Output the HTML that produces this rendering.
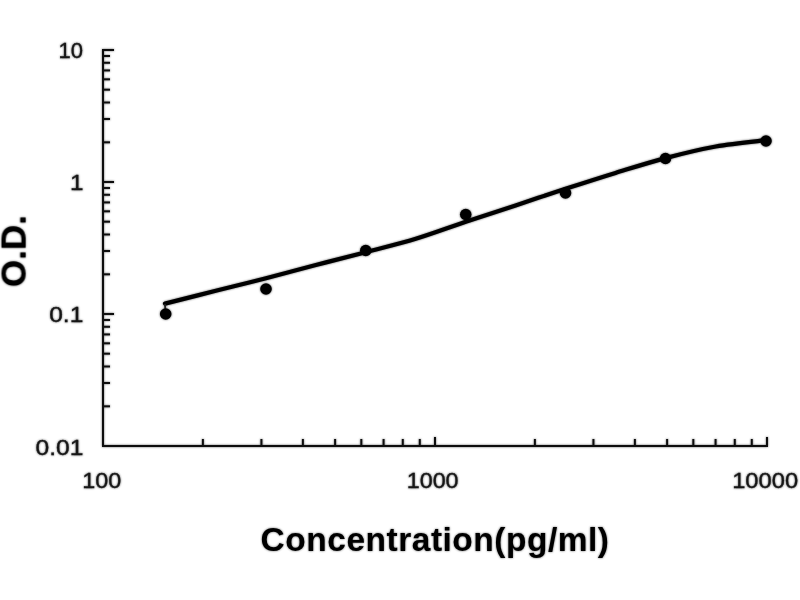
<!DOCTYPE html>
<html lang="en"><head><meta charset="utf-8"><title>Standard curve</title>
<style>html,body{margin:0;padding:0;background:#fff}body{width:800px;height:600px;overflow:hidden}svg{display:block}text{font-family:"Liberation Sans",sans-serif;fill:#141414;stroke:#141414;stroke-width:0.3px}.b{font-weight:bold;fill:#000;stroke:none}</style></head>
<body>
<svg width="800" height="600" viewBox="0 0 800 600">
<defs><filter id="soft" x="0" y="0" width="800" height="600" filterUnits="userSpaceOnUse"><feGaussianBlur stdDeviation="0.8"/><feComponentTransfer result="b"><feFuncA type="linear" slope="0.6"/></feComponentTransfer><feMerge><feMergeNode in="b"/><feMergeNode in="SourceGraphic"/></feMerge></filter></defs>
<rect width="800" height="600" fill="#fff"/>
<g filter="url(#soft)">
<g stroke="#111" stroke-width="2.0" fill="none" stroke-linecap="butt">
<path d="M103 49 V445.9 H768"/>
<path d="M103 182.0 H114"/>
<path d="M103 142.3 H110"/>
<path d="M103 119.0 H110"/>
<path d="M103 102.5 H110"/>
<path d="M103 89.7 H110"/>
<path d="M103 79.3 H110"/>
<path d="M103 70.4 H110"/>
<path d="M103 62.8 H110"/>
<path d="M103 56.0 H110"/>
<path d="M103 314.0 H114"/>
<path d="M103 274.3 H110"/>
<path d="M103 251.0 H110"/>
<path d="M103 234.5 H110"/>
<path d="M103 221.7 H110"/>
<path d="M103 211.3 H110"/>
<path d="M103 202.4 H110"/>
<path d="M103 194.8 H110"/>
<path d="M103 188.0 H110"/>
<path d="M103 406.3 H110"/>
<path d="M103 383.0 H110"/>
<path d="M103 366.5 H110"/>
<path d="M103 353.7 H110"/>
<path d="M103 343.3 H110"/>
<path d="M103 334.4 H110"/>
<path d="M103 326.8 H110"/>
<path d="M103 320.0 H110"/>
<path d="M103 50.0 H114"/>
<path d="M202.9 445.9 V439"/>
<path d="M261.4 445.9 V439"/>
<path d="M302.9 445.9 V439"/>
<path d="M335.1 445.9 V439"/>
<path d="M361.3 445.9 V439"/>
<path d="M383.6 445.9 V439"/>
<path d="M402.8 445.9 V439"/>
<path d="M419.8 445.9 V439"/>
<path d="M435.0 445.9 V437"/>
<path d="M534.9 445.9 V439"/>
<path d="M593.4 445.9 V439"/>
<path d="M634.9 445.9 V439"/>
<path d="M667.1 445.9 V439"/>
<path d="M693.3 445.9 V439"/>
<path d="M715.6 445.9 V439"/>
<path d="M734.8 445.9 V439"/>
<path d="M751.8 445.9 V439"/>
<path d="M767 445.9 V437"/>
</g>
<path d="M165.0 303.6 C173.5 301.5 199.0 295.0 215.8 290.8 C232.7 286.6 249.3 282.5 266.0 278.2 C282.7 273.9 299.3 269.4 315.9 265.0 C332.5 260.7 349.1 256.6 365.8 252.2 C382.4 247.8 399.1 243.9 415.8 238.8 C432.4 233.7 449.1 227.4 465.8 221.8 C482.4 216.2 499.0 210.9 515.6 205.4 C532.2 199.9 548.9 194.2 565.5 188.8 C582.1 183.4 598.8 178.0 615.5 172.9 C632.2 167.8 648.8 162.5 665.5 158.1 C682.2 153.7 699.0 149.5 715.8 146.5 C732.5 143.5 757.6 141.2 766.0 140.2" fill="none" stroke="#000" stroke-width="4.2" stroke-linecap="round" stroke-linejoin="round"/>
<path d="M165.0 304 L165.3 309.5" stroke="#222" stroke-width="1.8" fill="none"/>
<g fill="#000">
<circle cx="165.7" cy="314.0" r="5.8"/>
<circle cx="266" cy="289" r="5.8"/>
<circle cx="365.75" cy="250.5" r="5.8"/>
<circle cx="465.75" cy="214.5" r="5.8"/>
<circle cx="565.5" cy="193" r="5.8"/>
<circle cx="665.5" cy="158.5" r="5.8"/>
<circle cx="766" cy="141" r="5.8"/>
</g>
<text x="58.5" y="58.0" font-size="21.5" textLength="24.5" lengthAdjust="spacingAndGlyphs">10</text>
<text x="70.0" y="190.0" font-size="21.5" textLength="13.5" lengthAdjust="spacingAndGlyphs">1</text>
<text x="49.2" y="322.4" font-size="21.5" textLength="34.1" lengthAdjust="spacingAndGlyphs">0.1</text>
<text x="35.5" y="454.5" font-size="21.5" textLength="47.8" lengthAdjust="spacingAndGlyphs">0.01</text>
<text x="82.2" y="487.9" font-size="21.5" textLength="39.0" lengthAdjust="spacingAndGlyphs">100</text>
<text x="406.7" y="487.9" font-size="21.5" textLength="51.9" lengthAdjust="spacingAndGlyphs">1000</text>
<text x="732.2" y="487.9" font-size="21.5" textLength="65.9" lengthAdjust="spacingAndGlyphs">10000</text>
<text x="260.6" y="551" class="b" font-size="33.5" textLength="348.4" lengthAdjust="spacing">Concentration(pg/ml)</text>
<text transform="translate(25.6 287.1) rotate(-90)" class="b" font-size="34.5" textLength="72" lengthAdjust="spacingAndGlyphs">O.D.</text>
</g>
</svg>
</body></html>
